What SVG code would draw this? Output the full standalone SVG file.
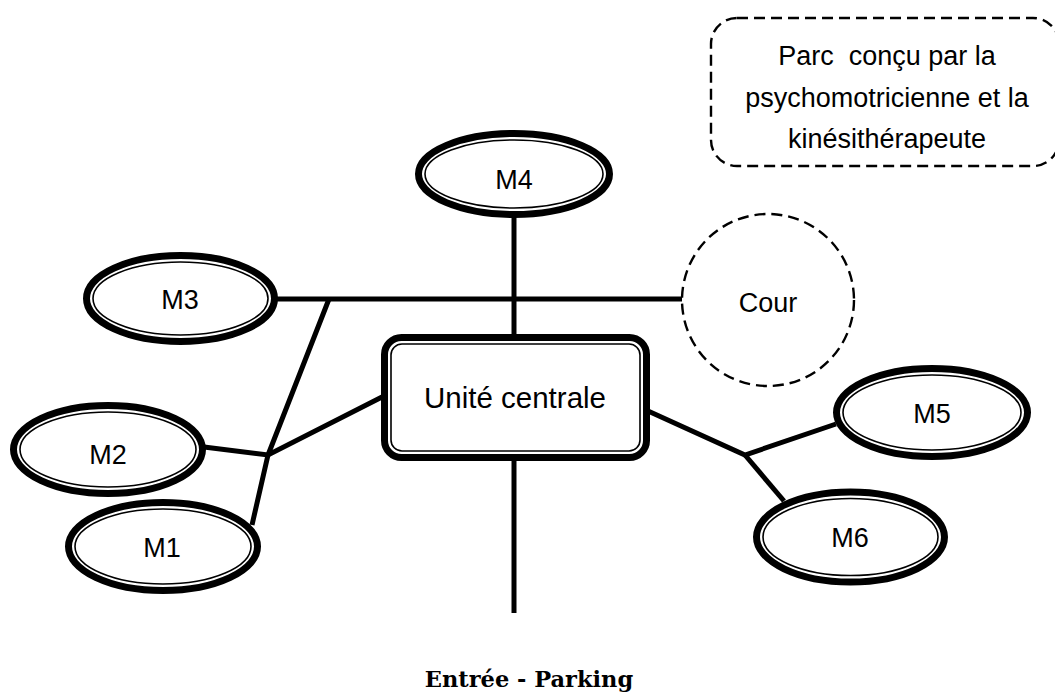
<svg xmlns="http://www.w3.org/2000/svg" width="1055" height="693" viewBox="0 0 1055 693">
<style>
.outer{fill:#fff;stroke:#000;stroke-width:7}
.inner{fill:none;stroke:#000;stroke-width:1.6}
.lbl{font-family:"Liberation Sans",Arial,sans-serif;font-size:27px;fill:#000;text-anchor:middle}
.dash{fill:#fff;stroke:#000;stroke-width:2.4;stroke-dasharray:11 6}
.conn{fill:none;stroke:#000;stroke-width:5;stroke-linejoin:miter}
.title{font-family:"DejaVu Serif","Liberation Serif",serif;font-weight:bold;font-size:22.5px;text-anchor:middle;fill:#000}
</style>
<rect width="1055" height="693" fill="#fff"/>
<g id="connectors">
<line class="conn" x1="514" y1="215" x2="514" y2="336"/>
<line class="conn" x1="276" y1="299" x2="682" y2="299"/>
<polyline class="conn" points="329,299 268,455 252,525"/>
<polyline class="conn" points="204,447 268,455 382,397"/>
<line class="conn" x1="514" y1="459" x2="514" y2="613"/>
<polyline class="conn" points="648,411 745,455 836,424"/>
<line class="conn" x1="745" y1="455" x2="784" y2="501"/>
</g>
<g id="parc">
<rect class="dash" x="711" y="18" width="348" height="148" rx="26"/>
<text class="lbl" x="887" y="65" style="white-space:pre" xml:space="preserve">Parc  conçu par la</text>
<text class="lbl" x="887" y="107">psychomotricienne et la</text>
<text class="lbl" x="887" y="148">kinésithérapeute</text>
</g>
<g id="cour">
<circle class="dash" cx="768" cy="300" r="86"/>
<text class="lbl" x="768" y="312">Cour</text>
</g>
<g id="m4">
<ellipse class="outer" cx="514" cy="174" rx="95.5" ry="40.5"/>
<ellipse class="inner" cx="514" cy="174" rx="89" ry="34"/>
<text class="lbl" x="514" y="189">M4</text>
</g>
<g id="m3">
<ellipse class="outer" cx="180.5" cy="298.5" rx="94" ry="43"/>
<ellipse class="inner" cx="180.5" cy="298.5" rx="87.5" ry="36.5"/>
<text class="lbl" x="180" y="309">M3</text>
</g>
<g id="m2">
<ellipse class="outer" cx="108" cy="449.5" rx="94.5" ry="44"/>
<ellipse class="inner" cx="108" cy="449.5" rx="88" ry="37.5"/>
<text class="lbl" x="108" y="464">M2</text>
</g>
<g id="m1">
<ellipse class="outer" cx="163" cy="546.5" rx="94.5" ry="44"/>
<ellipse class="inner" cx="163" cy="546.5" rx="88" ry="37.5"/>
<text class="lbl" x="162" y="557">M1</text>
</g>
<g id="m5">
<ellipse class="outer" cx="932" cy="412.5" rx="95.5" ry="44"/>
<ellipse class="inner" cx="932" cy="412.5" rx="89" ry="37.5"/>
<text class="lbl" x="932" y="423">M5</text>
</g>
<g id="m6">
<ellipse class="outer" cx="850.5" cy="537" rx="94" ry="45"/>
<ellipse class="inner" cx="850.5" cy="537" rx="87.5" ry="38.5"/>
<text class="lbl" x="850" y="547">M6</text>
</g>
<g id="unite">
<rect class="outer" x="384.5" y="337.5" width="262" height="120" rx="17"/>
<rect class="inner" x="391" y="344" width="249" height="107" rx="11"/>
<text class="lbl" x="515" y="408" style="font-size:29.5px">Unité centrale</text>
</g>
<text class="title" x="529" y="687">Entrée - Parking</text>
</svg>
